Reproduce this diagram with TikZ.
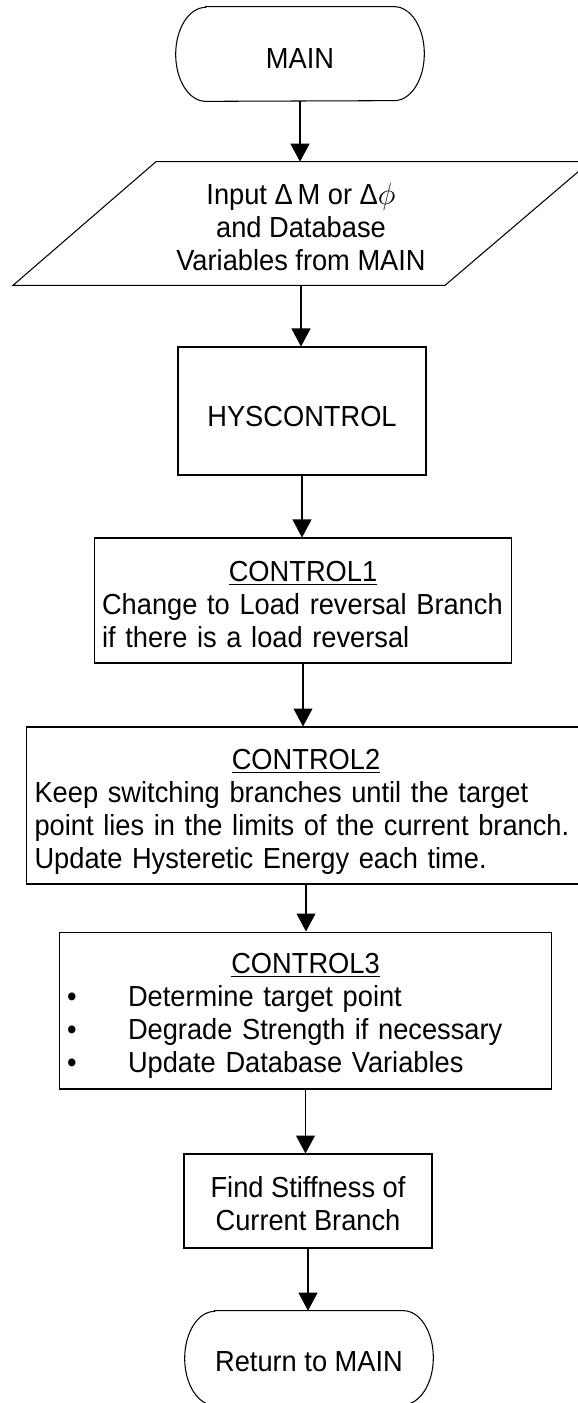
\documentclass[tikz,border=0pt]{standalone}
\usepackage{fontspec}
\setmainfont[FakeStretch=0.94]{Liberation Sans}
\usetikzlibrary{arrows.meta,calc}
\newcommand{\padtop}[1]{\rule{0pt}{#1pt}}
\tikzset{
  txt/.style={font=\fontsize{16.5}{18.8}\selectfont, inner sep=0pt},
  term/.style={txt, minimum width=4.96cm, minimum height=1.88cm},
  proc/.style={txt, draw, line width=0.6pt, inner xsep=0.16cm},
  flow/.style={line width=0.6pt, -{Triangle[length=0.36cm,width=0.38cm]}}
}

\begin{document}
\begin{tikzpicture}[x=0.02cm, y=-0.02cm]
  \useasboundingbox (0,0) rectangle (578,1403);

  % start and end of the routine
  \node[term] (main) at (300,54) {\padtop{16}MAIN};
  \node[term] (ret) at (309,1358) {\padtop{15}Return to MAIN};
  \foreach \n in {main,ret}
    \draw[line width=0.6pt] ($(\n.north west)+(30,0)$) -- ($(\n.north east)+(-30,0)$)
      arc[start angle=90, end angle=-90, x radius=0.6cm, y radius=0.94cm]
      -- ($(\n.south west)+(30,0)$)
      arc[start angle=270, end angle=90, x radius=0.6cm, y radius=0.94cm] -- cycle;

  % input from MAIN
  \node[txt, align=center, minimum height=2.46cm] (input) at (301,223.5)
    {\padtop{16}Input Δ\,M or Δ$\phi$\\ and Database\\ Variables from MAIN};
  \draw[line width=0.6pt] ($(input.north)+(-145,0)$) -- ($(input.north)+(289,0)$)
    -- ($(input.south)+(144,0)$) -- ($(input.south)+(-288,0)$) -- cycle;

  \node[proc, minimum width=4.96cm, minimum height=2.56cm] (hys) at (302,411) {\padtop{17.5}HYSCONTROL};

  \node[proc, text width=8.04cm, align=left, minimum height=2.5cm] (c1) at (303,600.5)
    {\padtop{16.5}\makebox[\linewidth]{\underline{CONTROL1}}\\
     Change to Load reversal Branch\\
     if there is a load reversal};

  \node[proc, text width=10.86cm, align=left, minimum height=3.14cm] (c2) at (306,805.5)
    {\padtop{18.5}\makebox[\linewidth]{\underline{CONTROL2}}\\
     Keep switching branches until the target\\
     point lies in the limits of the current branch.\\
     Update Hysteretic Energy each time.};

  \node[proc, text width=9.54cm, align=left, minimum height=3.14cm] (c3) at (305.5,1010.5)
    {\padtop{18}\makebox[\linewidth]{\underline{CONTROL3}}\\
     \makebox[1.22cm][l]{\textbullet}Determine target point\\
     \makebox[1.22cm][l]{\textbullet}Degrade Strength if necessary\\
     \makebox[1.22cm][l]{\textbullet}Update Database Variables};

  \node[proc, align=center, minimum width=4.96cm, minimum height=1.88cm] (find) at (308,1201)
    {\padtop{14.5}Find Stiffness of\\ Current Branch};

  % connectors, straight down from each box
  \foreach \a/\b in {main/input, input/hys, hys/c1, c1/c2, c2/c3, c3/find, find/ret}
    \draw[flow] (\a.south) -- (\a.south |- \b.north);
\end{tikzpicture}
\end{document}
